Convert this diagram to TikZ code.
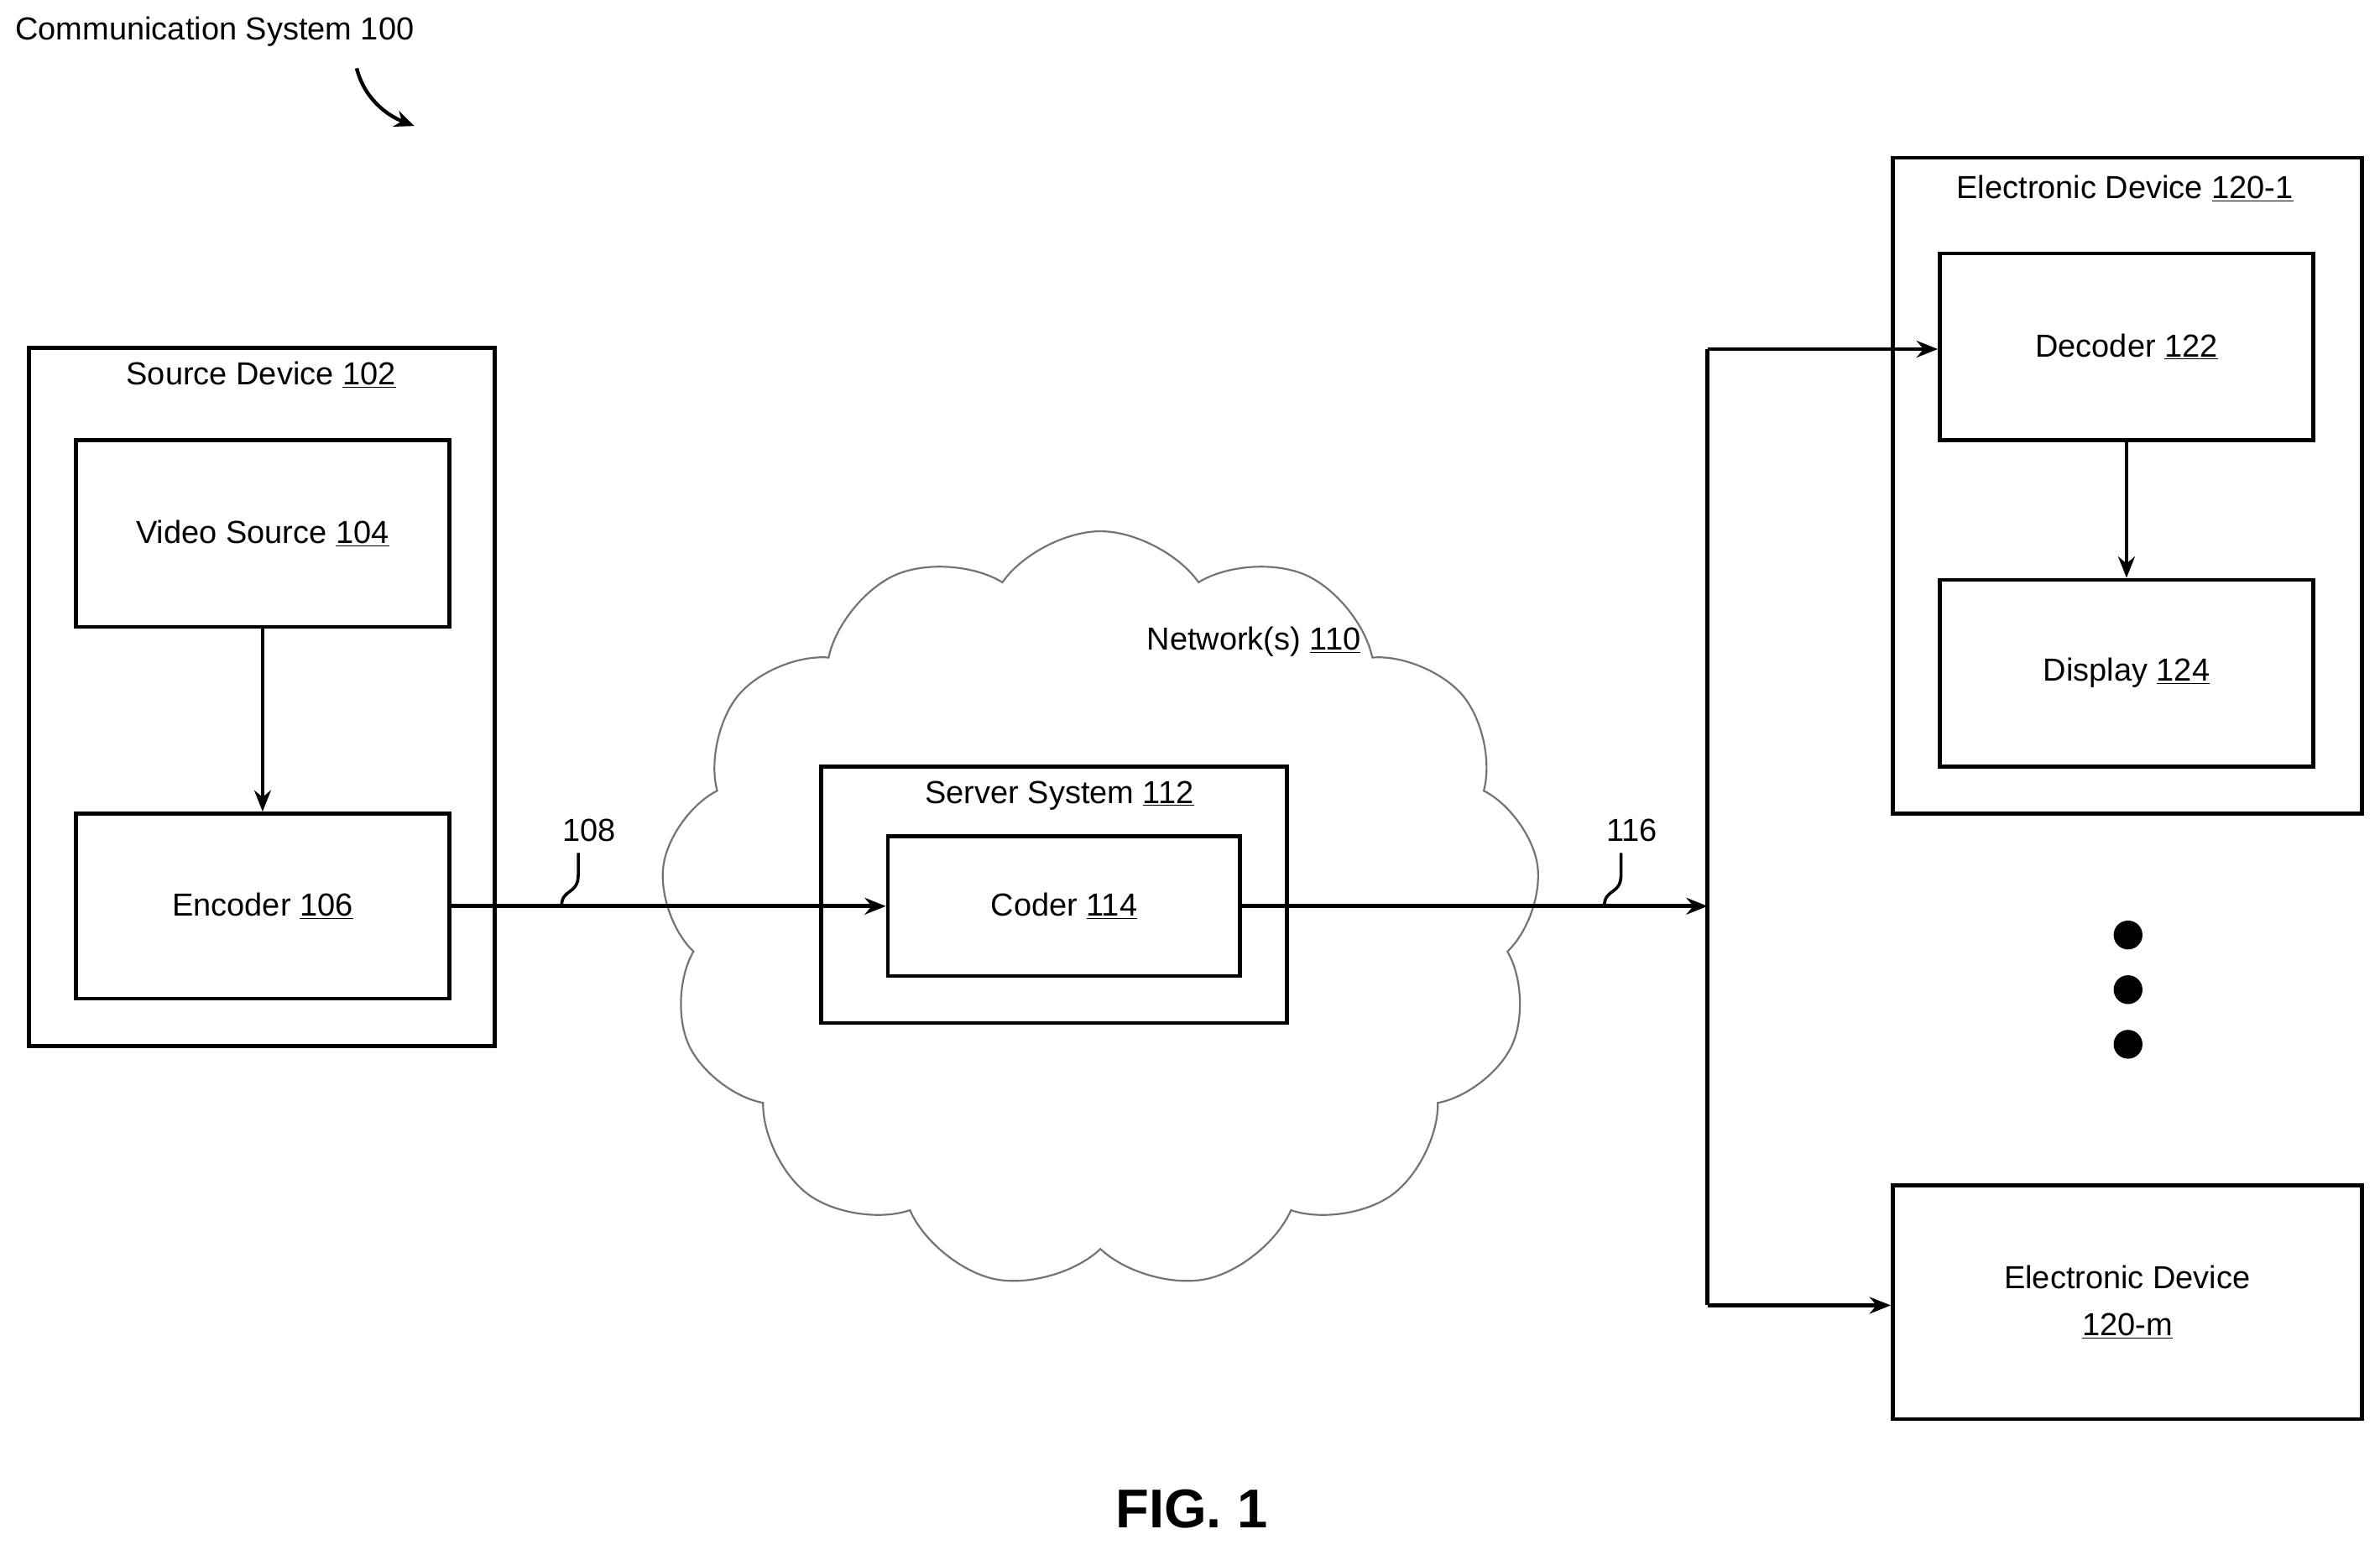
\documentclass[tikz,border=0pt]{standalone}
\usepackage{fontspec}
\setmainfont{Liberation Sans}
\usetikzlibrary{shapes.symbols,arrows.meta}
\begin{document}
\begin{tikzpicture}[x=1pt,y=-1pt,
  box/.style={draw,line width=2.6pt,inner sep=0pt},
  lbl/.style={font=\fontsize{21}{25}\selectfont,inner sep=0pt},
  arr/.style={line width=2.6pt,-{Stealth[length=14pt,width=11pt]}},
  ln/.style={line width=2.6pt}]
\useasboundingbox[fill=white] (0,0) rectangle (1568,1021);
\node[lbl,anchor=west] (title) at (10,21) {Communication System 100};
\coordinate (t1) at (235,45); \coordinate (t2) at (273,83);
\draw[line width=2.4pt,-{Stealth[length=13pt,width=11pt]}] (t1) .. controls (240,65) and (255,76) .. (t2);
% cloud
\node[cloud,draw=black!55,line width=1.2pt,cloud puffs=13,cloud puff arc=110,aspect=1.1,minimum width=580pt,minimum height=500pt] (cloud) at (725,600) {};
\node[lbl] (net) at (826,423) {Network(s) \underline{110}};
% source
\node[box,minimum width=307pt,minimum height=460pt] (src) at (172.5,459) {};
\node[lbl] (srcl) at (172,247) {Source Device \underline{102}};
\node[box,fill=white,minimum width=246pt,minimum height=123pt] (vs) at (173,351.5) {};
\node[lbl] at (vs) {Video Source \underline{104}};
\node[box,fill=white,minimum width=246pt,minimum height=122pt] (enc) at (173,597) {};
\node[lbl] at (enc) {Encoder \underline{106}};
\draw[arr] (vs) -- (enc);
% server
\node[box,fill=white,minimum width=307pt,minimum height=169pt] (srv) at (694.5,589.5) {};
\node[lbl] (srvl) at (698,524) {Server System \underline{112}};
\node[box,fill=white,minimum width=232pt,minimum height=92pt] (cod) at (701,597) {};
\node[lbl] at (cod) {Coder \underline{114}};
\draw[arr] (enc.east) -- (cod.west);
\node[lbl] (l108) at (388,547) {108};
\coordinate (s108) at (370,597); \coordinate (e108) at (381,562);
\draw[line width=2pt] (s108) .. controls (370,585) and (381,590) .. (381,576) -- (e108);
% right
\coordinate (J) at (1125,597);
\coordinate (top) at (1125,230);
\coordinate (bot) at (1125,860);
\draw[arr] (cod.east) -- (J);
\node[lbl] (l116) at (1075,547) {116};
\coordinate (s116) at (1057,597); \coordinate (e116) at (1068,562);
\draw[line width=2pt] (s116) .. controls (1057,585) and (1068,590) .. (1068,576) -- (e116);
\node[box,minimum width=309pt,minimum height=432pt] (ed1) at (1401.5,320) {};
\node[lbl] (ed1l) at (1400,124) {Electronic Device \underline{120-1}};
\node[box,minimum width=246pt,minimum height=123pt] (dec) at (1401,228.5) {};
\node[lbl] at (dec) {Decoder \underline{122}};
\node[box,minimum width=246pt,minimum height=123pt] (dis) at (1401,443.5) {};
\node[lbl] at (dis) {Display \underline{124}};
\draw[arr] (dec) -- (dis);
\node[box,minimum width=309pt,minimum height=154pt,align=center,font=\fontsize{21}{31}\selectfont] (edm) at (1401.5,858) {Electronic Device\\\underline{120-m}};
\draw[ln] (top) -- (bot);
\draw[arr] (top) -- (dec.west |- top);
\draw[arr] (bot) -- (edm.west |- bot);
\foreach \y/\n in {616/d1,652/d2,688/d3} \fill (1402,\y) circle (9.5pt) coordinate (\n);
\node[font=\fontsize{36}{40}\selectfont\bfseries,inner sep=0pt] (fig) at (785,994) {FIG. 1};
\end{tikzpicture}
\end{document}
